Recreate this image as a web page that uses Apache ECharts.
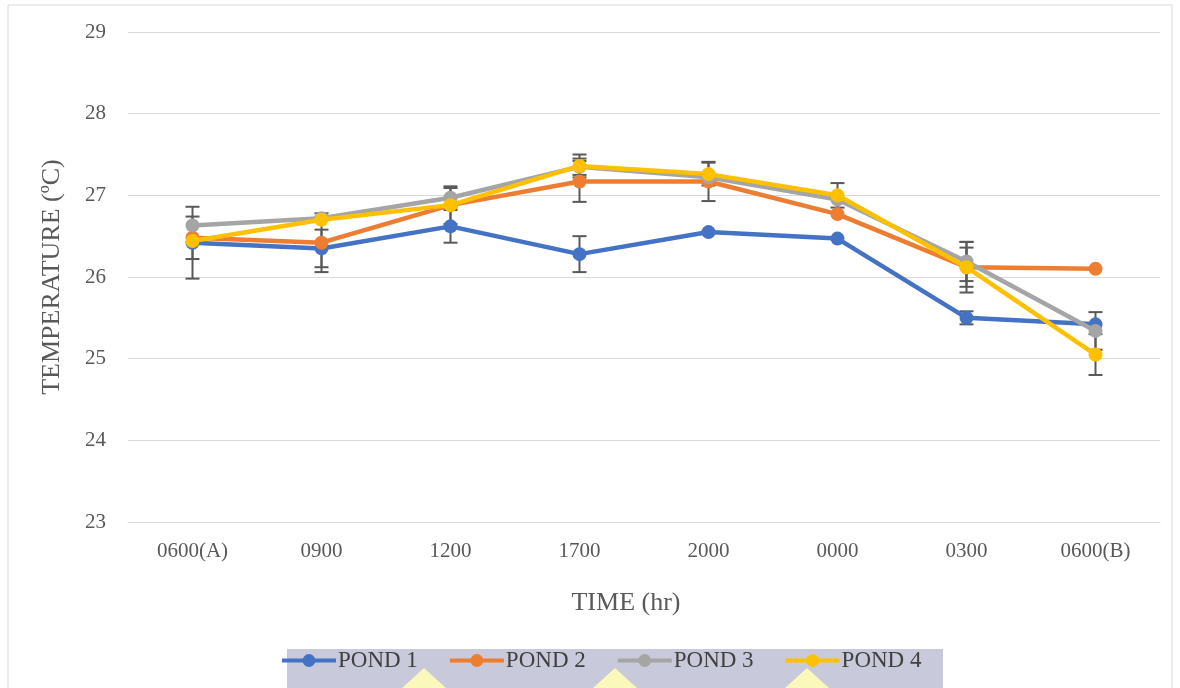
<!DOCTYPE html>
<html><head><meta charset="utf-8">
<script src="https://cdn.jsdelivr.net/npm/echarts@6/dist/echarts.min.js"></script>
<style>html,body{margin:0;padding:0;background:#fff}#c{width:1180px;height:688px}</style>
</head><body><div id="c"></div>
<script>
const categories = ['0600(A)', '0900', '1200', '1700', '2000', '0000', '0300', '0600(B)'];
const seriesNames = ['POND 1', 'POND 2', 'POND 3', 'POND 4'];
const pond1 = [26.42, 26.35, 26.62, 26.28, 26.55, 26.47, 25.50, 25.42];
const pond2 = [26.48, 26.42, 26.88, 27.17, 27.17, 26.77, 26.12, 26.10];
const pond3 = [26.63, 26.72, 26.97, 27.35, 27.22, 26.95, 26.19, 25.34];
const pond4 = [26.44, 26.70, 26.88, 27.36, 27.26, 27.00, 26.12, 25.05];
const err1 = [0.44, 0.23, 0.20, 0.22, 0, 0, 0.08, 0];
const err2 = [0.26, 0.36, 0.23, 0.25, 0.24, 0, 0.31, 0];
const err3 = [0, 0, 0.12, 0.10, 0, 0, 0.24, 0.23];
const err4 = [0, 0, 0, 0.14, 0.14, 0.15, 0.24, 0.25];
const yTicks = [23, 24, 25, 26, 27, 28, 29];

const colors = ['#4472C4', '#ED7D31', '#A5A5A5', '#FFC000'];
const values = [pond1, pond2, pond3, pond4];
const errs = [err1, err2, err3, err4];

const chart = echarts.init(document.getElementById('c'));
const serif = '"Liberation Serif", "Times New Roman", serif';

function errSeries(vals, errv, i) {
  const data = [];
  vals.forEach((v, k) => { if (errv[k] > 0) data.push([k, v - errv[k], v + errv[k]]); });
  return {
    type: 'custom', name: 'err' + i, z: 1, silent: true,
    renderItem: function (params, api) {
      const x = api.coord([api.value(0), api.value(1)])[0];
      const lo = api.coord([api.value(0), api.value(1)])[1];
      const hi = api.coord([api.value(0), api.value(2)])[1];
      const w = 7;
      const st = { stroke: '#595959', lineWidth: 2 };
      return { type: 'group', children: [
        { type: 'line', shape: { x1: x, y1: lo, x2: x, y2: hi }, style: st },
        { type: 'line', shape: { x1: x - w, y1: lo, x2: x + w, y2: lo }, style: st },
        { type: 'line', shape: { x1: x - w, y1: hi, x2: x + w, y2: hi }, style: st }
      ]};
    },
    encode: { x: 0, y: [1, 2] },
    data: data
  };
}

const series = [];
values.forEach((vals, i) => series.push(errSeries(vals, errs[i], i)));
values.forEach((vals, i) => series.push({
  name: seriesNames[i], type: 'line', z: 3 + i,
  data: vals, symbol: 'circle', symbolSize: 14,
  lineStyle: { width: 4.5, color: colors[i] },
  itemStyle: { color: colors[i] },
  animation: false
}));

const band = [];
band.push({ type: 'rect', shape: { x: 287, y: 649, width: 656, height: 39 }, style: { fill: '#c8c9da' }, z: -1 });
[424, 615, 807].forEach(cx => band.push({ type: 'polygon', shape: { points: [[cx - 22, 688], [cx, 668], [cx + 22, 688]] }, style: { fill: '#fbf8bb' }, z: -1 }));

chart.setOption({
  animation: false,
  backgroundColor: '#fff',
  color: colors,
  grid: { left: 128, right: 20, top: 32, bottom: 166, containLabel: false },
  xAxis: {
    type: 'category', data: categories, boundaryGap: true,
    name: 'TIME (hr)', nameLocation: 'middle', nameGap: 68,
    nameTextStyle: { fontFamily: serif, fontSize: 26, color: '#595959', padding: [0, 36, 0, 0] },
    axisLine: { lineStyle: { color: '#d9d9d9', width: 1 } },
    axisTick: { show: false },
    axisLabel: { fontFamily: serif, fontSize: 21, color: '#595959', margin: 19 }
  },
  yAxis: {
    type: 'value', min: 23, max: 29, interval: 1,
    name: 'TEMPERATURE (ºC)', nameLocation: 'middle', nameGap: 63,
    nameTextStyle: { fontFamily: serif, fontSize: 26, color: '#595959' },
    axisLine: { show: false }, axisTick: { show: false },
    splitLine: { lineStyle: { color: '#d9d9d9', width: 1 } },
    axisLabel: { fontFamily: serif, fontSize: 21, color: '#595959', margin: 22,
      formatter: v => yTicks.includes(v) ? String(v) : '' }
  },
  legend: {
    data: seriesNames, top: 644, left: 275,
    itemWidth: 54, itemHeight: 16, itemGap: 30,
    lineStyle: { width: 4 },
    textStyle: { fontFamily: serif, fontSize: 23, color: '#404040', padding: [0, 0, 0, -3] }
  },
  graphic: [
    { type: 'rect', shape: { x: 8, y: 5, width: 1164, height: 690 }, style: { fill: 'none', stroke: '#d9d9d9', lineWidth: 1 }, z: -2 },
    ...band
  ],
  series: series
});
</script></body></html>
